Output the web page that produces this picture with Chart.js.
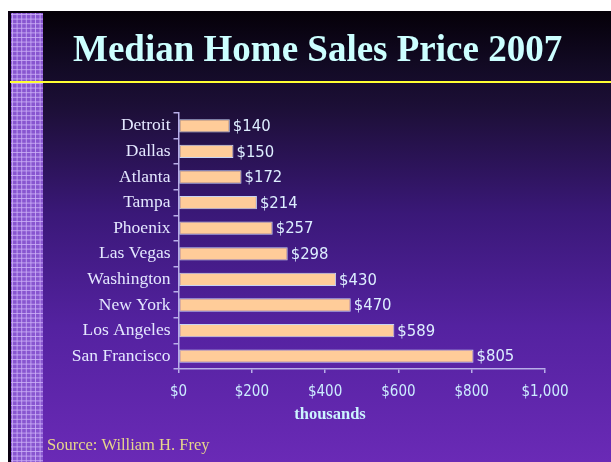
<!DOCTYPE html>
<html><head><meta charset="utf-8">
<script src="https://cdn.jsdelivr.net/npm/chart.js@4"></script>
<style>html,body{margin:0;padding:0;background:#fff}#wrap{width:611px;height:462px;position:relative}</style>
</head><body><div id="wrap"><canvas id="c" width="611" height="462"></canvas></div>
<script>
const cities = ["Detroit","Dallas","Atlanta","Tampa","Phoenix","Las Vegas","Washington","New York","Los Angeles","San Francisco"];
const prices = [140,150,172,214,257,298,430,470,589,805];
const xTicks = [0,200,400,600,800,1000];
const titleText = "Median Home Sales Price 2007";
const axisTitle = "thousands";
const sourceText = "Source: William H. Frey";

const bgPlugin = {
  id:'bg',
  beforeDraw(chart){
    const ctx = chart.ctx;
    ctx.save();
    ctx.fillStyle = '#ffffff';
    ctx.fillRect(0,0,611,462);
    const g = ctx.createLinearGradient(0,11,0,462);
    g.addColorStop(0,'#050008');
    g.addColorStop(0.12,'#120a24');
    g.addColorStop(0.22,'#1d0f38');
    g.addColorStop(0.45,'#3a1878');
    g.addColorStop(0.7,'#5422a0');
    g.addColorStop(1,'#6a2ab6');
    ctx.fillStyle = g;
    ctx.fillRect(8,11,603,451);
    // left strip
    ctx.fillStyle = '#8856d0';
    ctx.fillRect(11,13,32,449);
    ctx.strokeStyle = 'rgba(205,178,248,0.8)';
    ctx.lineWidth = 1;
    ctx.beginPath();
    for (let x = 12.5; x < 43; x += 4.6){ ctx.moveTo(x,13); ctx.lineTo(x,462); }
    for (let y = 14.5; y < 462; y += 4.6){ ctx.moveTo(11,y); ctx.lineTo(43,y); }
    ctx.stroke();
    ctx.fillStyle = '#0a0010';
    ctx.fillRect(8,11,3,451);
    // yellow rule
    ctx.fillStyle = '#ffff33';
    ctx.fillRect(10,81,601,2);
    // title
    ctx.fillStyle = '#ccffff';
    ctx.font = 'bold 37px "Liberation Serif", serif';
    ctx.textBaseline = 'alphabetic';
    ctx.textAlign = 'left';
    ctx.fillText(titleText, 73, 61);
    ctx.restore();
  },
  afterDraw(chart){
    const ctx = chart.ctx;
    ctx.save();
    ctx.fillStyle = '#ccf4ff';
    ctx.font = 'bold 16.5px "Liberation Serif", serif';
    ctx.textAlign = 'center';
    ctx.textBaseline = 'alphabetic';
    ctx.fillText(axisTitle, 330, 419);
    ctx.fillStyle = '#e6d68a';
    ctx.font = '16.5px "Liberation Serif", serif';
    ctx.textAlign = 'left';
    ctx.fillText(sourceText, 47, 450);
    ctx.restore();
  },
  afterDatasetsDraw(chart){
    const ctx = chart.ctx;
    const meta = chart.getDatasetMeta(0);
    ctx.save();
    ctx.fillStyle = '#ddeeff';
    ctx.font = '16.5px "DejaVu Sans Condensed", "DejaVu Sans", sans-serif';
    ctx.textAlign = 'left';
    ctx.textBaseline = 'middle';
    meta.data.forEach((bar,i)=>{
      ctx.fillText('$' + prices[i], bar.x + 3, bar.y + 1);
    });
    ctx.restore();
  }
};

new Chart(document.getElementById('c'), {
  type:'bar',
  data:{
    labels: cities,
    datasets:[{
      data: prices,
      backgroundColor:'#ffcc99',
      borderColor:'#c8d4f4',
      borderWidth:1,
      borderSkipped:false,
      categoryPercentage:1,
      barPercentage:0.52
    }]
  },
  options:{
    indexAxis:'y',
    responsive:false,
    animation:false,
    events:[],
    layout:{padding:{left:43,top:113,right:66,bottom:0}},
    plugins:{legend:{display:false},tooltip:{enabled:false},title:{display:false}},
    scales:{
      x:{
        min:0,max:1000,
        afterBuildTicks(scale){ scale.ticks = xTicks.map(v=>({value:v})); },
        afterFit(scale){ scale.height = 93; },
        border:{display:true,color:'#b8aee8',width:1.5},
        grid:{drawOnChartArea:false,drawTicks:true,tickLength:4,color:'#b8aee8',lineWidth:1.5},
        ticks:{
          color:'#ccecff',
          padding:10,
          font:{family:'"DejaVu Sans Condensed", "DejaVu Sans", sans-serif',size:15},
          callback:(v)=>'$' + Number(v).toLocaleString('en-US')
        }
      },
      y:{
        afterFit(scale){ scale.width = 135.5; },
        border:{display:true,color:'#b8aee8',width:1.5},
        grid:{drawOnChartArea:false,drawTicks:true,tickLength:5,color:'#b8aee8',lineWidth:1.5,offset:true},
        ticks:{
          color:'#e4e8ff',
          padding:3,
          font:{family:'"Liberation Serif", serif',size:17.5}
        }
      }
    }
  },
  plugins:[bgPlugin]
});
</script></body></html>
